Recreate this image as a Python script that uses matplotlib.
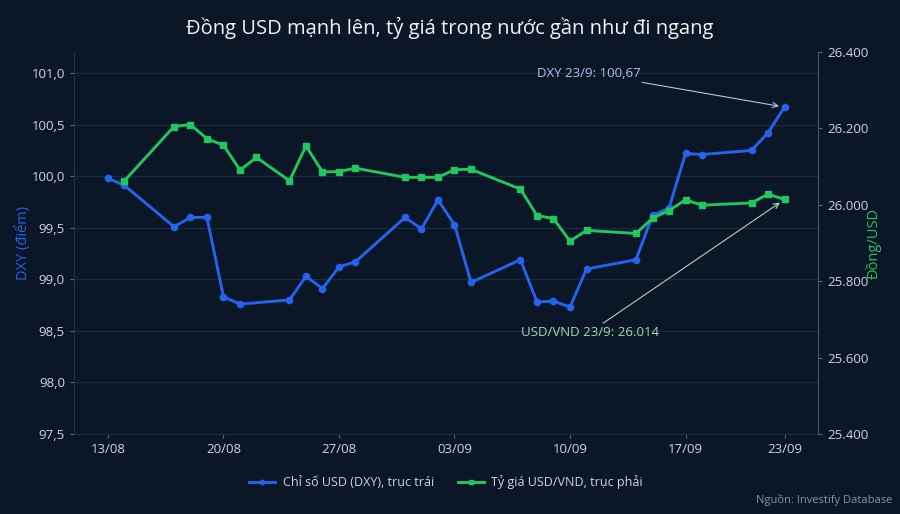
import pandas as pd
import matplotlib
matplotlib.use('Agg')
from matplotlib import pyplot as plt
from matplotlib.ticker import FuncFormatter

plt.rcParams['font.family'] = ['Open Sans', 'DejaVu Sans']

bg = '#0b1627'
blue = '#2563eb'
green = '#22c55e'
text_col = '#cfd6df'

# DXY, left axis
dxy_dates = ['2024-08-13', '2024-08-14', '2024-08-17', '2024-08-18', '2024-08-19',
             '2024-08-20', '2024-08-21', '2024-08-24', '2024-08-25', '2024-08-26',
             '2024-08-27', '2024-08-28', '2024-08-31', '2024-09-01', '2024-09-02',
             '2024-09-03', '2024-09-04', '2024-09-07', '2024-09-08', '2024-09-09',
             '2024-09-10', '2024-09-11', '2024-09-14', '2024-09-15', '2024-09-16',
             '2024-09-17', '2024-09-18', '2024-09-21', '2024-09-22', '2024-09-23']
dxy = [99.98, 99.91, 99.51, 99.60, 99.60,
       98.83, 98.76, 98.80, 99.03, 98.91,
       99.12, 99.17, 99.60, 99.49, 99.77,
       99.53, 98.97, 99.19, 98.78, 98.79,
       98.73, 99.10, 99.19, 99.62, 99.69,
       100.22, 100.21, 100.25, 100.42, 100.67]

# USD/VND, right axis
vnd_dates = ['2024-08-14', '2024-08-17', '2024-08-18', '2024-08-19', '2024-08-20',
             '2024-08-21', '2024-08-22', '2024-08-24', '2024-08-25', '2024-08-26',
             '2024-08-27', '2024-08-28', '2024-08-31', '2024-09-01', '2024-09-02',
             '2024-09-03', '2024-09-04', '2024-09-07', '2024-09-08', '2024-09-09',
             '2024-09-10', '2024-09-11', '2024-09-14', '2024-09-15', '2024-09-16',
             '2024-09-17', '2024-09-18', '2024-09-21', '2024-09-22', '2024-09-23']
vnd = [26063, 26205, 26210, 26173, 26156,
       26091, 26124, 26063, 26154, 26086,
       26087, 26096, 26072, 26072, 26072,
       26092, 26093, 26041, 25972, 25964,
       25905, 25933, 25925, 25965, 25985,
       26013, 25999, 26005, 26028, 26014]

tick_dates = ['2024-08-13', '2024-08-20', '2024-08-27', '2024-09-03',
              '2024-09-10', '2024-09-17', '2024-09-23']
tick_labels = ['13/08', '20/08', '27/08', '03/09', '10/09', '17/09', '23/09']

dxy_dates = pd.to_datetime(dxy_dates)
vnd_dates = pd.to_datetime(vnd_dates)
tick_dates = pd.to_datetime(tick_dates)

fig = plt.figure(figsize=(9, 5.14), dpi=100, facecolor=bg)
ax = fig.add_axes([0.0822, 0.1556, 0.8267, 0.7432])
ax.set_facecolor(bg)
ax2 = ax.twinx()

l1, = ax.plot(dxy_dates, dxy, color=blue, lw=2.1, marker='o', ms=4.5,
              label='Chỉ số USD (DXY), trục trái', zorder=3)
l2, = ax2.plot(vnd_dates, vnd, color=green, lw=2.1, marker='s', ms=4.5,
               label='Tỷ giá USD/VND, trục phải', zorder=3)

ax.set_xlim(pd.Timestamp('2024-08-13') - pd.Timedelta(days=2.06),
            pd.Timestamp('2024-08-13') + pd.Timedelta(days=43.03))
ax.set_ylim(97.5, 101.204)
ax2.set_ylim(25400, 26400)

ax.set_xticks(tick_dates)
ax.set_xticklabels(tick_labels)
ax.set_yticks([97.5, 98.0, 98.5, 99.0, 99.5, 100.0, 100.5, 101.0])
ax.yaxis.set_major_formatter(FuncFormatter(lambda v, p: f'{v:.1f}'.replace('.', ',')))
ax2.set_yticks([25400, 25600, 25800, 26000, 26200, 26400])
ax2.yaxis.set_major_formatter(FuncFormatter(lambda v, p: f'{v:,.0f}'.replace(',', '.')))

ax.grid(axis='y', color='#1c2a3d', lw=0.9)
ax.set_axisbelow(True)

for a in (ax, ax2):
    a.tick_params(colors='#5b6675', labelcolor=text_col, labelsize=9.5, length=3, width=0.8)
    for s in a.spines.values():
        s.set_visible(False)
ax.spines['left'].set_visible(True)
ax.spines['left'].set_color('#243245')
ax.spines['bottom'].set_visible(True)
ax.spines['bottom'].set_color('#1c2a3d')
ax2.spines['right'].set_visible(True)
ax2.spines['right'].set_color('#4b5563')

ax.set_ylabel('DXY (điểm)', color=blue, fontsize=10.5)
ax2.set_ylabel('Đồng/USD', color=green, fontsize=10.5)
ax.yaxis.set_label_coords(-0.058, 0.5)
ax2.yaxis.set_label_coords(1.0645, 0.5)

fig.text(0.5, 0.945, 'Đồng USD mạnh lên, tỷ giá trong nước gần như đi ngang',
         ha='center', va='center', color='#f1f3f6', fontsize=14.5)

ax.annotate('DXY 23/9: 100,67', xy=(dxy_dates[-1], dxy[-1]), xytext=(-196, 34),
            textcoords='offset pixels', ha='center', va='center',
            color='#a8c5ee', fontsize=9.5,
            arrowprops=dict(arrowstyle='->', color='#a8c5ee', lw=0.8, shrinkA=0, shrinkB=4))
ax2.annotate('USD/VND 23/9: 26.014', xy=(vnd_dates[-1], vnd[-1]), xytext=(-195, -133),
             textcoords='offset pixels', ha='center', va='center',
             color='#9fdcb2', fontsize=9.5,
             arrowprops=dict(arrowstyle='->', color='#9fdcb2', lw=0.8, shrinkA=0, shrinkB=4))

leg = fig.legend(handles=[l1, l2], loc='center', bbox_to_anchor=(0.4956, 0.062), ncol=2,
                 frameon=False, fontsize=9, labelcolor=text_col, handlelength=2.1,
                 handletextpad=0.6, columnspacing=1.9, markerscale=0.7)

fig.text(0.992, 0.028, 'Nguồn: Investify Database', ha='right', va='center',
         color='#8a94a3', fontsize=8)

fig.savefig('out.png', dpi=100, facecolor=bg)
